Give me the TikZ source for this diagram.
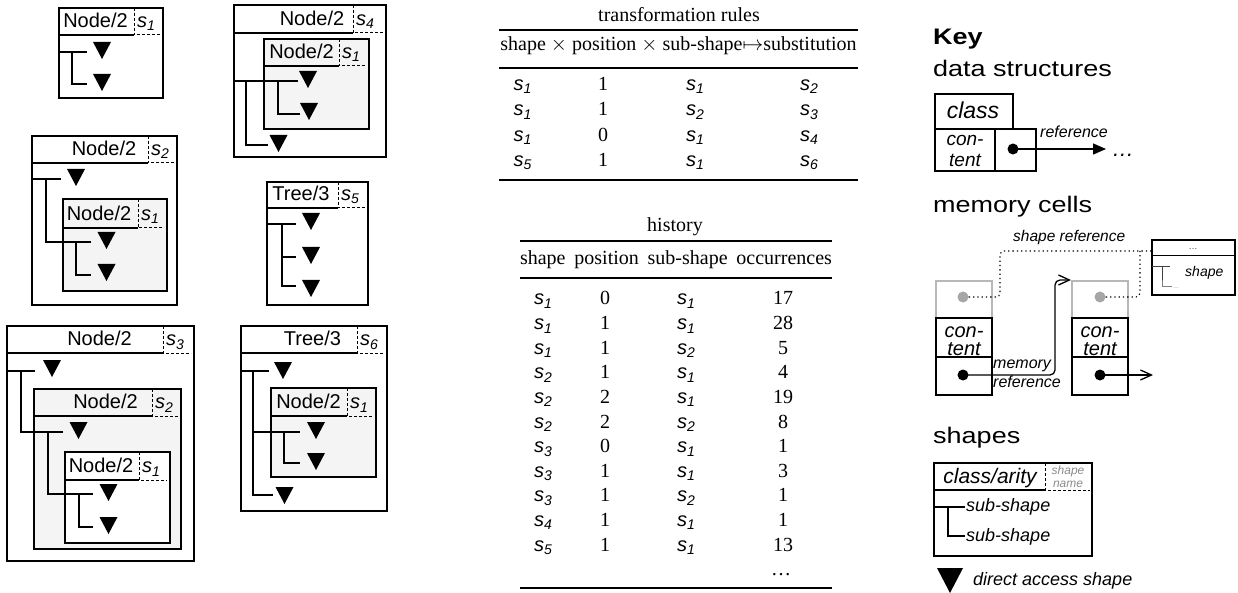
\documentclass[tikz,border=0pt]{standalone}
\usepackage{fontspec}
\setmainfont{Liberation Serif}
\setsansfont{Liberation Sans}
\newfontfamily\headfont[FakeStretch=1.2]{Liberation Sans}
\usetikzlibrary{arrows.meta}

\definecolor{boxgray}{HTML}{F4F4F4}
\definecolor{cellgray}{HTML}{B8B8B8}
\definecolor{dotgray}{HTML}{A6A6A6}
\definecolor{tagtext}{HTML}{8C8C8C}

\newcommand\fs[1]{\fontsize{#1}{#1}\selectfont}
% shape name: italic s with a lowered index
\newcommand\sn[1]{{\sffamily\itshape s\raisebox{-3.5pt}{\fs{14}#1}}}

\tikzset{
  frame/.style={line width=2.6pt},
  branch/.style={line width=1.3pt},
  tagline/.style={line width=1pt, dash pattern=on 3pt off 2pt},
  lab/.style={font=\sffamily\fs{20}, inner sep=0pt},
  tabtxt/.style={font=\rmfamily\fs{20}, inner sep=0pt, anchor=base},
  keyhead/.style={font=\headfont\fs{22.5}, inner sep=0pt, anchor=base west},
  keyital/.style={font=\sffamily\itshape\fs{#1}, inner sep=0pt},
  cellline/.style={line width=1.4pt},
  cellgrayline/.style={line width=1.4pt, draw=cellgray},
  bdot/.style={circle, fill=black, inner sep=0pt, minimum size=11pt},
  gdot/.style={circle, fill=dotgray, inner sep=0pt, minimum size=11pt},
  dotline/.style={line width=1.1pt, dash pattern=on 1.3pt off 3pt},
  cellarrow/.style={line width=1.3pt, -{Straight Barb[length=11pt,width=10pt]}},
  thickrule/.style={line width=2.2pt},
  thinrule/.style={line width=1.2pt},
}

% frame of a shape: [fill]{x1}{y1}{x2}{y2}{header y}{tag x}
\newcommand\shapeframe[7][white]{%
  \filldraw[frame, fill=#1] (#2,#3) rectangle (#4,#5);
  \draw[branch] (#2,#6) -- (#7,#6);
  \draw[tagline] (#7,#3) -- (#7,#6) -- (#4-3,#6);
}
% header texts: {name}{centre x}{header y}{class}{tag x}{index}
\newcommand\shapelabel[6]{%
  \node[lab, anchor=base] (#1-cls) at (#2,#3-7.5) {#4};
  \node[lab, anchor=base west] (#1-tag) at (#5+3,#3-7.5) {\sn{#6}};
}
% direct access triangle: {centre x}{top y}
\newcommand\tri[2]{\fill (#1-9,#2) -- ++(18,0) -- ++(-9,17) -- cycle;}

\begin{document}
\begin{tikzpicture}[x=1pt,y=-1pt]
\useasboundingbox (0,0) rectangle (1238,593);

% ---------- s1 ----------
\shapeframe{59}{8}{163}{98}{35}{134}
\shapelabel{sA}{95.5}{35}{Node/2}{134}{1}
\draw[branch] (59,52) -- (87,52) (72,52) |- (87,84);
\tri{102}{42} \tri{102}{74}

% ---------- s2 ----------
\shapeframe{32}{136}{177}{305}{163}{148}
\shapelabel{sB}{104}{163}{Node/2}{148}{2}
\shapeframe[boxgray]{63}{199}{167}{291}{228}{138}
\shapelabel{sBi}{99}{228}{Node/2}{138}{1}
\draw[branch] (32,179) -- (61,179) (46,179) |- (91,242) (76,242) |- (91,275);
\tri{76}{169} \tri{106.5}{232} \tri{106.5}{264}

% ---------- s3 ----------
\shapeframe{7}{326}{194}{561}{353}{163}
\shapelabel{sC}{99.5}{353}{Node/2}{163}{3}
\shapeframe[boxgray]{34}{389}{181}{549}{416}{152}
\shapelabel{sCi}{105.5}{416}{Node/2}{152}{2}
\shapeframe{65}{452}{170}{543}{480}{139}
\shapelabel{sCii}{101}{480}{Node/2}{139}{1}
\draw[branch] (7,371) -- (35,371) (21,371) |- (63,432) (48,432) |- (93,494) (79,494) |- (93,527);
\tri{52}{360} \tri{78.5}{422} \tri{108.5}{484} \tri{108.5}{517}

% ---------- s4 ----------
\shapeframe{234}{5}{386}{157}{33}{353}
\shapelabel{sD}{312}{33}{Node/2}{353}{4}
\shapeframe[boxgray]{264}{39}{369}{129}{66}{339}
\shapelabel{sDi}{301.5}{66}{Node/2}{339}{1}
\draw[branch] (234,81) -- (298,81) (246,81) |- (268,145) (278,81) |- (300,114);
\tri{308}{71} \tri{309}{103} \tri{278.5}{135}

% ---------- s5 ----------
\shapeframe{267}{182}{368}{305}{208}{338}
\shapelabel{sE}{301}{208}{Tree/3}{338}{5}
\draw[branch] (267,224) -- (296,224) (282,224) |- (296,286) (282,257) -- (296,257);
\tri{311}{213} \tri{311}{247} \tri{311}{280}

% ---------- s6 ----------
\shapeframe{241}{326}{387}{511}{353}{357}
\shapelabel{sF}{312.5}{353}{Tree/3}{357}{6}
\shapeframe[boxgray]{271}{388}{376}{477}{416}{347}
\shapelabel{sFi}{308.5}{416}{Node/2}{347}{1}
\draw[branch] (241,371) -- (269,371) (253,371) |- (273,495) (253,432) -- (300,432) (284,432) |- (300,463);
\tri{283}{362} \tri{316}{422} \tri{316}{453} \tri{284.5}{487}

% ---------- transformation rules ----------
\node[tabtxt] (trtitle) at (679,22) {transformation rules};
\draw[thickrule] (499,30) -- (858,30);
\node[tabtxt] (trhead) at (678.5,51) {shape $\times$ position $\times$ sub-shape{$\mapsto$}substitution};
\draw[thinrule] (499,68) -- (858,68);
\foreach \a/\b/\c/\d [count=\i from 0] in {1/1/1/2,1/1/2/3,1/0/1/4,5/1/1/6}{
  \node[tabtxt] (tr-\i-a) at (522.5,90.5+25.3*\i) {\sn{\a}};
  \node[tabtxt] (tr-\i-b) at (603,90.5+25.3*\i) {\b};
  \node[tabtxt] (tr-\i-c) at (695,90.5+25.3*\i) {\sn{\c}};
  \node[tabtxt] (tr-\i-d) at (809,90.5+25.3*\i) {\sn{\d}};
}
\draw[thickrule] (499,180) -- (858,180);

% ---------- history ----------
\node[tabtxt] (hititle) at (675,232) {history};
\draw[thickrule] (520,241) -- (832,241);
\node[tabtxt] (hihead) at (676,265) {shape\hspace{8.8pt}position\hspace{8.8pt}sub-shape\hspace{8.8pt}occurrences};
\draw[thinrule] (520,278) -- (832,278);
\foreach \a/\b/\c/\d [count=\i from 0] in
  {1/0/1/17,1/1/1/28,1/1/2/5,2/1/1/4,2/2/1/19,2/2/2/8,3/0/1/1,3/1/1/3,3/1/2/1,4/1/1/1,5/1/1/13}{
  \node[tabtxt] (hi-\i-a) at (543,305+24.6*\i) {\sn{\a}};
  \node[tabtxt] (hi-\i-b) at (605,305+24.6*\i) {\b};
  \node[tabtxt] (hi-\i-c) at (686,305+24.6*\i) {\sn{\c}};
  \node[tabtxt] (hi-\i-d) at (783,305+24.6*\i) {\d};
}
\node[tabtxt] (hidots) at (781,575.6) {\dots};
\draw[thickrule] (520,588) -- (832,588);

% ---------- key: data structures ----------
\node[keyhead, font=\headfont\bfseries\fs{22.5}] (keytitle) at (933,45) {Key};
\node[keyhead] (dshead) at (933,77) {data structures};
\draw[cellline] (935,94) rectangle (1013,129);
\node[keyital=23, anchor=base] (dsclass) at (973,119) {class};
\draw[cellline] (935,129) rectangle (995,171) (995,129) rectangle (1036,171);
\node[keyital=19, anchor=base] (dscon) at (965,146) {con-};
\node[keyital=19, anchor=base] (dstent) at (965,167) {tent};
\node[bdot] (dsptr) at (1013,149) {};
\coordinate (dsend) at (1106,149);
\draw[line width=1.3pt, -{Triangle[length=13pt,width=11pt]}] (dsptr.center) -- (dsend);
\node[keyital=16, anchor=base west] (dsref) at (1040,138) {reference};
\node[keyital=22, anchor=base west] (dsdots) at (1112,157) {\dots};

% ---------- key: memory cells ----------
\node[keyhead] (mchead) at (933,213) {memory cells};
\node[keyital=15.5, anchor=base west] (mcshref) at (1013,242) {shape reference};
% left cell
\draw[cellgrayline] (936,281) rectangle (992,318);
\draw[cellline] (936,318) rectangle (992,395) (936,357) -- (992,357);
\node[keyital=20, anchor=base] (lcon) at (964,337) {con-};
\node[keyital=20, anchor=base] (ltent) at (964,355) {tent};
% right cell
\draw[cellgrayline] (1072,281) rectangle (1128,318);
\draw[cellline] (1072,318) rectangle (1128,395) (1072,357) -- (1128,357);
\node[keyital=20, anchor=base] (rcon) at (1100,337) {con-};
\node[keyital=20, anchor=base] (rtent) at (1100,355) {tent};
\node[gdot] (gd1) at (963,297) {};
\node[gdot] (gd2) at (1100,297) {};
\node[bdot] (bd1) at (963,375) {};
\node[bdot] (bd2) at (1100,375) {};
% referenced shape
\draw[line width=1.2pt] (1152,240) rectangle (1235,295);
\draw[line width=2pt] (1152,240) -- (1235,240);
\draw[line width=1pt] (1152,256) -- (1235,256);
\node[font=\sffamily\fs{9}, text=darkgray, inner sep=0pt, anchor=base] (mshd) at (1193,250) {\dots};
\draw[line width=1pt, darkgray] (1152,267) -- (1170,267) (1162,267) -- (1162,280);
\draw[line width=1pt, gray] (1162,280) |- (1172,287);
\node[font=\sffamily\fs{6}, text=gray, inner sep=0pt, anchor=base west] (msdots) at (1173,289) {\dots};
\node[keyital=14, anchor=base west] (msname) at (1185,277) {shape};
\coordinate (msin) at (1152,251);
\draw[dotline, rounded corners=4] (gd1.east) -- (1000,297) -- (1000,251) -- (msin);
\draw[dotline, rounded corners=4] (gd2.east) -- (1140,297) -- (1140,251);
% memory reference
\coordinate (memtip) at (1071,280);
\draw[cellarrow, rounded corners=5] (bd1.center) -- (1055,375) -- (1055,280) -- (memtip);
\node[keyital=16, anchor=base west] (memlab) at (993,368) {memory};
\node[keyital=16, anchor=base west] (reflab) at (993,387) {reference};
\coordinate (rcend) at (1153,375);
\draw[cellarrow] (bd2.center) -- (rcend);

% ---------- key: shapes ----------
\node[keyhead] (shhead) at (933,443) {shapes};
\draw[line width=1.8pt] (934,463) rectangle (1092,556);
\draw[line width=1.3pt] (934,490) -- (1045,490);
\draw[tagline] (1045,463) -- (1045,490) -- (1090,490);
\node[keyital=21, anchor=base] (legcls) at (990,483) {class/arity};
\node[keyital=12, anchor=base, text=tagtext] (legtag1) at (1068,474) {shape};
\node[keyital=12, anchor=base, text=tagtext] (legtag2) at (1068,487) {name};
\draw[branch] (934,507) -- (965,507) (948,507) |- (965,536);
\node[keyital=18, anchor=base west] (legsub1) at (966,511) {sub-shape};
\node[keyital=18, anchor=base west] (legsub2) at (966,541) {sub-shape};
\fill (937,568) -- (963,568) -- (950,593) -- cycle;
\node[keyital=18, anchor=base west] (legtri) at (973,585) {direct access shape};
\end{tikzpicture}
\end{document}
